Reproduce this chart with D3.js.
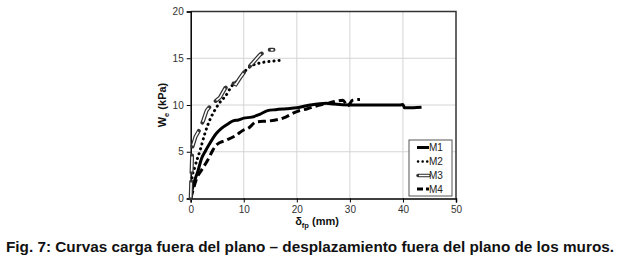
<!DOCTYPE html>
<html><head><meta charset="utf-8">
<script src="https://cdn.jsdelivr.net/npm/d3@7"></script>
<style>body{margin:0;background:#fff}svg{display:block}text{font-family:"Liberation Sans",Arial,sans-serif}</style>
</head><body><svg id="c" width="621" height="261"></svg>
<script>
const seriesNames = ["M1","M2","M3","M4"];
const m1 = [[0,0],[0.3,1],[0.8,2],[1.4,3],[2,4.2],[2.7,5.0],[3.5,5.8],[4.9,7.0],[5.8,7.5],[7.1,8.0],[8,8.3],[9,8.4],[10,8.6],[11.5,8.7],[13,9.0],[14.5,9.4],[16,9.5],[18,9.6],[20,9.7],[22.5,10.0],[25.6,10.2],[27,10.1],[30,10.0],[35,10.0],[39.4,10.0],[40,10.05],[40.3,9.7],[42,9.7],[43.5,9.75]];
const m2 = [[0,0],[0.2,2],[0.8,3.4],[1.8,5.2],[2.7,7],[3.6,8.4],[4.6,9.5],[5.8,10.5],[6.5,10.9],[7.7,12],[9,12.7],[10.2,13.6],[11.2,14.1],[13.1,14.5],[15.6,14.7],[17.4,14.8]];
const m3 = [[0,0],[0.1,2],[0.2,3.4],[0.3,5.5],[0.9,6.6],[1.7,7.4],[2.4,8.4],[3.0,9.4],[4.0,10.1],[5.5,10.8],[6.5,11.8],[7.4,12.2],[8.0,12.3],[8.5,12.2],[9.3,12.9],[10.2,13.6],[11.7,14.5],[13.1,15.4],[14.5,15.9],[15.6,15.9]];
const m4 = [[0,0],[0.5,1],[1.1,2.1],[2,3],[3.3,4.2],[4.2,5.2],[5,5.8],[6.5,6.2],[8.4,6.7],[9.9,7.3],[10.8,7.5],[12.4,8.2],[14.9,8.3],[17.4,8.6],[20,9.3],[22,9.6],[24.3,10.0],[26,10.2],[27.3,10.4],[28.7,10.5],[29.6,9.9],[30.5,10.5],[31.9,10.6]];
const xTicks = [0,10,20,30,40,50];
const yTicks = [0,5,10,15,20];
const caption = "Fig. 7: Curvas carga fuera del plano \u2013 desplazamiento fuera del plano de los muros.";

const svg = d3.select("#c");
const L=190.7, R=456, T=11.5, B=198.5;
const x = d3.scaleLinear().domain([0,50]).range([L,R]);
const y = d3.scaleLinear().domain([0,20]).range([B,T]);

// grid
svg.append("g").selectAll("line").data(xTicks.filter(d=>d>0&&d<50)).join("line")
  .attr("x1",d=>x(d)).attr("x2",d=>x(d)).attr("y1",T).attr("y2",B).attr("stroke","#d4d4d4").attr("stroke-width",1);
svg.append("g").selectAll("line").data(yTicks.filter(d=>d>0&&d<20)).join("line")
  .attr("y1",d=>y(d)).attr("y2",d=>y(d)).attr("x1",L).attr("x2",R).attr("stroke","#d4d4d4").attr("stroke-width",1);
// frame
svg.append("path").attr("d",`M${L},${T}H${R}V${B}`).attr("fill","none").attr("stroke","#333").attr("stroke-width",1.5);

const xa = svg.append("g").attr("transform",`translate(0,${B})`).call(d3.axisBottom(x).tickValues(xTicks).tickSize(4).tickPadding(3));
const ya = svg.append("g").attr("transform",`translate(${L},0)`).call(d3.axisLeft(y).tickValues(yTicks).tickSize(4).tickPadding(3));
[xa,ya].forEach(a=>{a.select(".domain").attr("stroke","#000").attr("stroke-width",1.5);
  a.selectAll(".tick line").attr("stroke","#000");
  a.selectAll(".tick text").attr("font-size","10px").attr("fill","#333").attr("font-family","Liberation Sans, Arial, sans-serif");});

const line = d3.line().x(d=>x(d[0])).y(d=>y(d[1])).curve(d3.curveMonotoneX);
const g = svg.append("g");
// M1 solid
g.append("path").attr("d",line(m1)).attr("fill","none").attr("stroke","#000").attr("stroke-width",3).attr("stroke-linejoin","round");
// M4 dashed
g.append("path").attr("d",line(m4)).attr("fill","none").attr("stroke","#000").attr("stroke-width",3).attr("stroke-dasharray","8,4");
// M2 dotted
g.append("path").attr("d",line(m2)).attr("fill","none").attr("stroke","#000").attr("stroke-width",3).attr("stroke-linecap","round").attr("stroke-dasharray","0.1,5");
// M3 double line dashed
const l3 = d3.line().x(d=>x(d[0])).y(d=>y(d[1])).curve(d3.curveLinear);
g.append("path").attr("d",l3(m3)).attr("fill","none").attr("stroke","#333").attr("stroke-width",4).attr("stroke-linecap","round").attr("stroke-dasharray","17,9");
g.append("path").attr("d",l3(m3)).attr("fill","none").attr("stroke","#fff").attr("stroke-width",1.6).attr("stroke-linecap","butt").attr("stroke-dasharray","15,11").attr("stroke-dashoffset",-1);

// legend
const lg = svg.append("g");
lg.append("rect").attr("x",409).attr("y",140).attr("width",43).attr("height",56).attr("fill","#fff").attr("stroke","#555").attr("stroke-width",1);
const ly = [147.5,161.5,175.5,189];
seriesNames.forEach((n,i)=>{
  const yy = ly[i];
  if(i===0) lg.append("line").attr("x1",417).attr("x2",429).attr("y1",yy).attr("y2",yy).attr("stroke","#000").attr("stroke-width",3);
  if(i===1) lg.append("line").attr("x1",418).attr("x2",429).attr("y1",yy).attr("y2",yy).attr("stroke","#000").attr("stroke-width",2.5).attr("stroke-linecap","round").attr("stroke-dasharray","0.1,4.5");
  if(i===2){ lg.append("line").attr("x1",418).attr("x2",429).attr("y1",yy).attr("y2",yy).attr("stroke","#333").attr("stroke-width",3.5).attr("stroke-linecap","round");
    lg.append("line").attr("x1",419).attr("x2",429.5).attr("y1",yy).attr("y2",yy).attr("stroke","#fff").attr("stroke-width",1.4);}
  if(i===3) lg.append("line").attr("x1",417).attr("x2",429).attr("y1",yy).attr("y2",yy).attr("stroke","#000").attr("stroke-width",3).attr("stroke-dasharray","6,3");
  lg.append("text").attr("x",429).attr("y",yy+3.5).attr("font-size","10px").attr("fill","#222").text(n);
});

// axis titles
const yt = svg.append("text").attr("transform",`translate(166,105) rotate(-90)`).attr("text-anchor","middle").attr("font-size","11px").attr("font-weight","bold").attr("fill","#111");
yt.append("tspan").text("W");
yt.append("tspan").attr("font-size","7.5px").attr("dy",3).text("e");
yt.append("tspan").attr("dy",-3).text(" (kPa)");
const xt = svg.append("text").attr("x",317).attr("y",225).attr("text-anchor","middle").attr("font-size","11px").attr("font-weight","bold").attr("fill","#111");
xt.append("tspan").text("\u03b4");
xt.append("tspan").attr("font-size","7.5px").attr("dy",3).text("fp");
xt.append("tspan").attr("dy",-3).text(" (mm)");

svg.append("text").attr("x",6).attr("y",252).attr("font-size","15px").attr("font-weight","bold").attr("fill","#111")
  .attr("textLength",608).attr("lengthAdjust","spacingAndGlyphs").text(caption);
</script></body></html>
